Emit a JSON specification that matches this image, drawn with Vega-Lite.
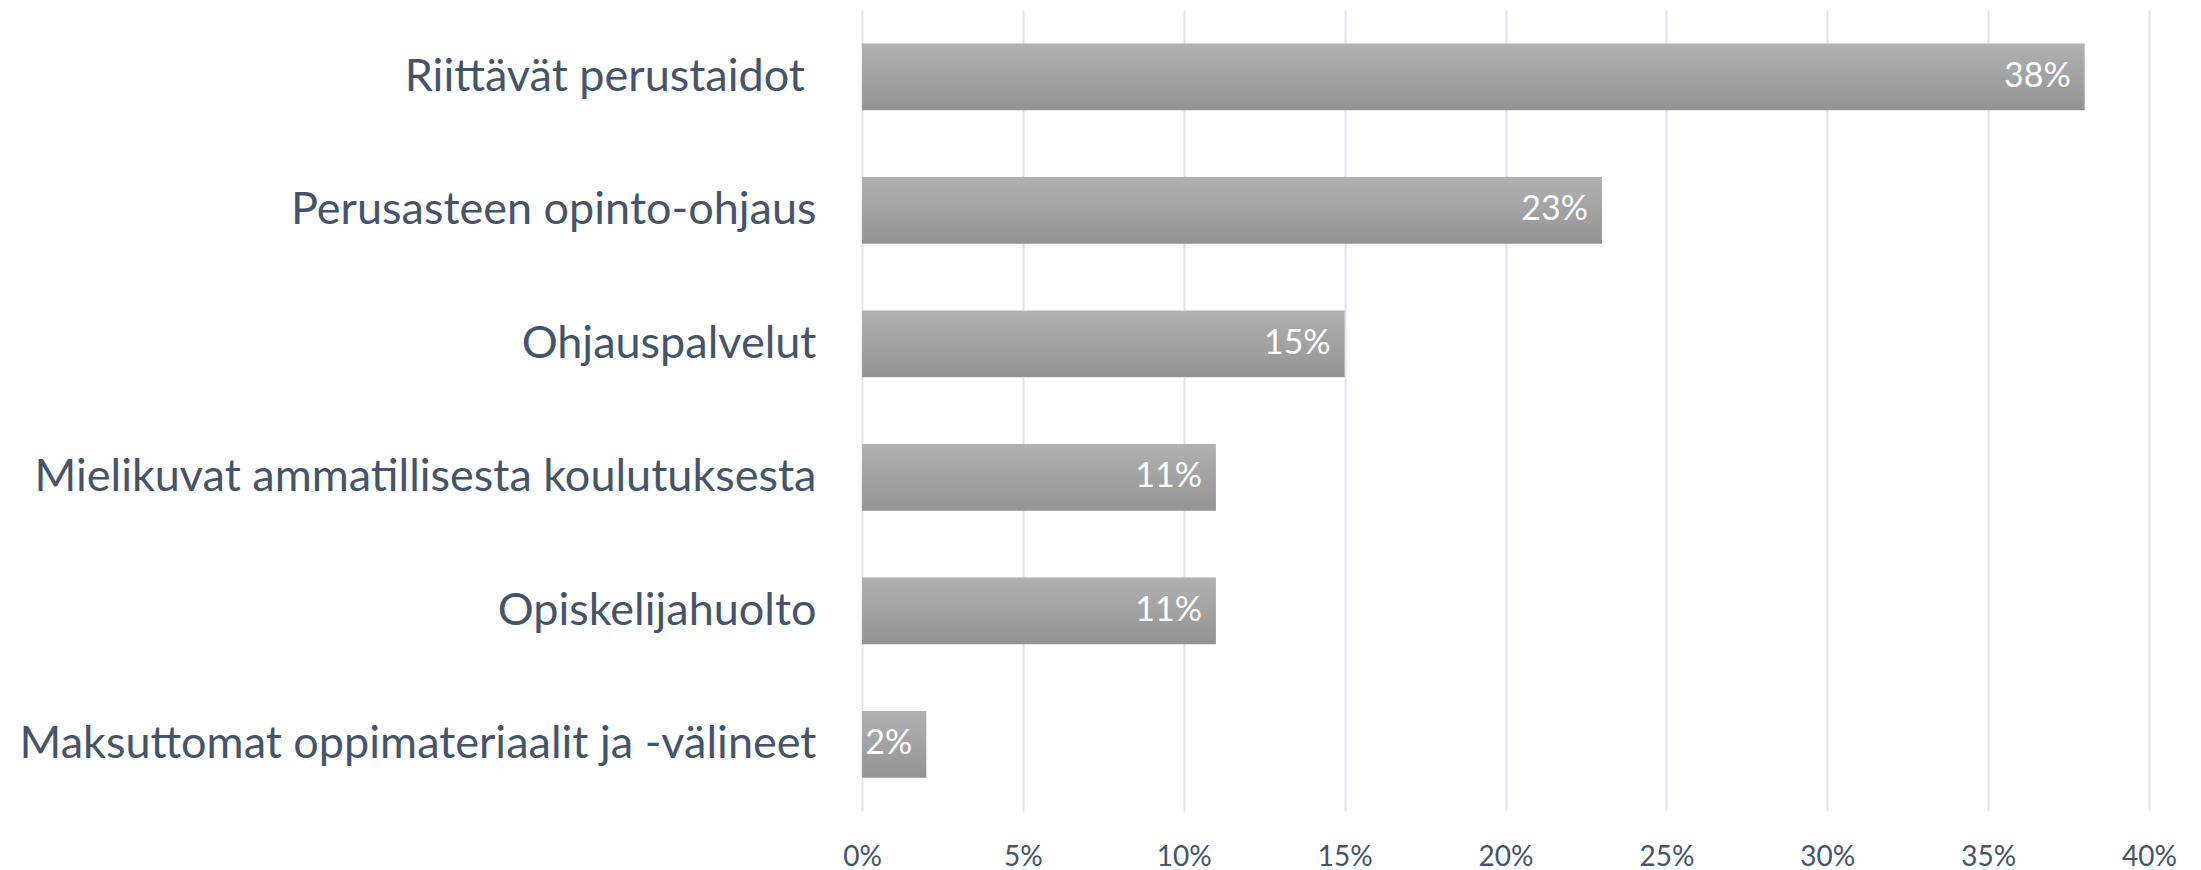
{
  "$schema": "https://vega.github.io/schema/vega-lite/v6.json",
  "width": 1287,
  "height": 801,
  "autosize": {"type": "none"},
  "padding": {"left": 862, "top": 10, "right": 52, "bottom": 59},
  "background": "white",
  "config": {"view": {"stroke": null}, "font": "Lato"},
  "data": {
    "values": [
      {"kategoria": "Riittävät perustaidot\u00a0\u200b", "osuus": 0.38, "teksti": "38%"},
      {"kategoria": "Perusasteen opinto-ohjaus", "osuus": 0.23, "teksti": "23%"},
      {"kategoria": "Ohjauspalvelut", "osuus": 0.15, "teksti": "15%"},
      {"kategoria": "Mielikuvat ammatillisesta koulutuksesta", "osuus": 0.11, "teksti": "11%"},
      {"kategoria": "Opiskelijahuolto", "osuus": 0.11, "teksti": "11%"},
      {"kategoria": "Maksuttomat oppimateriaalit ja -välineet", "osuus": 0.02, "teksti": "2%"}
    ]
  },
  "encoding": {
    "y": {
      "field": "kategoria", "type": "nominal", "sort": null, "title": null,
      "scale": {"paddingInner": 0.5, "paddingOuter": 0.25},
      "axis": {"domain": false, "ticks": false, "labelFontSize": 45, "labelColor": "#44546A", "labelPadding": 46, "labelLimit": 900, "labelFont": "Lato"}
    },
    "x": {
      "field": "osuus", "type": "quantitative", "title": null,
      "scale": {"domain": [0, 0.4]},
      "axis": {"format": ".0%", "values": [0, 0.05, 0.1, 0.15, 0.2, 0.25, 0.3, 0.35, 0.4], "domain": false, "ticks": false, "grid": true, "gridColor": "#E1E5EB", "gridWidth": 2, "labelFontSize": 28, "labelColor": "#44546A", "labelPadding": 32, "labelFlush": false}
    }
  },
  "layer": [
    {
      "mark": {"type": "bar", "color": {"gradient": "linear", "x1": 0, "y1": 0, "x2": 0, "y2": 1, "stops": [{"offset": 0, "color": "#B1B1B1"}, {"offset": 1, "color": "#939393"}]}}
    },
    {
      "mark": {"type": "text", "align": "right", "baseline": "middle", "dx": -14, "color": "white", "fontSize": 34, "font": "Lato"},
      "encoding": {"text": {"field": "teksti"}}
    }
  ]
}
